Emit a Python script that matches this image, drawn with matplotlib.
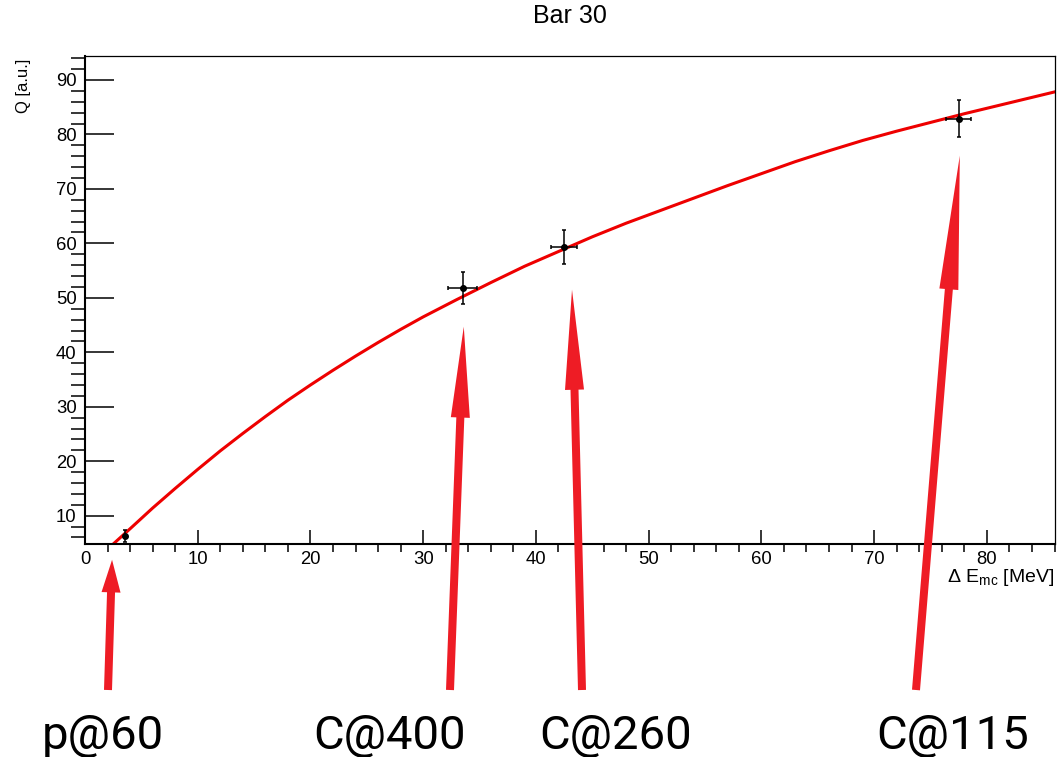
import matplotlib
matplotlib.use("Agg")
import matplotlib.pyplot as plt
from matplotlib.patches import FancyArrow
from matplotlib.ticker import MultipleLocator

# measured points (Delta E_mc in MeV, charge in a.u.)
points_x = [3.55, 33.5, 42.5, 77.5]
points_y = [6.3, 51.75, 59.3, 82.9]
points_xerr = [0.0, 1.27, 1.14, 1.1]
points_yerr = [1.1, 2.95, 3.15, 3.4]

# fitted curve
fit_x = [2.4, 4, 6, 8, 10, 12, 14, 16, 18, 20, 22, 24, 26, 28, 30,
         33, 36, 39, 42, 45, 48, 51, 54, 57, 60, 63, 66, 69, 72, 75,
         78, 81, 84, 86]
fit_y = [4.6, 7.6, 11.4, 15.0, 18.5, 21.9, 25.1, 28.2, 31.2, 34.0,
         36.7, 39.3, 41.8, 44.2, 46.5, 49.7, 52.8, 55.8, 58.5, 61.2,
         63.7, 66.0, 68.3, 70.6, 72.8, 75.0, 77.0, 78.9, 80.6, 82.2,
         83.8, 85.3, 86.8, 87.8]

# beams pointing at the points
beam_labels = ["p@60", "C@400", "C@260", "C@115"]
beam_tip_x = [2.4, 33.6, 43.2, 77.6]
beam_tip_y = [1.9, 44.7, 51.5, 76.1]

W, H = 1057, 757
RED = "#ee0000"
ARROW = "#ee1c25"

plt.rcParams["font.family"] = ["Liberation Sans", "DejaVu Sans"]

fig = plt.figure(figsize=(W / 100, H / 100), dpi=100)
ax = fig.add_axes([85 / W, 1 - 544 / H, 969.5 / W, 488 / H])

ax.plot(fit_x, fit_y, color=RED, lw=2.2, zorder=2)
ax.errorbar(points_x, points_y, xerr=points_xerr, yerr=points_yerr,
            fmt="o", ms=4, color="black", ecolor="black", elinewidth=1.1,
            capsize=1.5, capthick=1.1, zorder=3)

ax.set_xlim(0, 86)
ax.set_ylim(4.8, 94.4)
ax.xaxis.set_major_locator(MultipleLocator(10))
ax.xaxis.set_minor_locator(MultipleLocator(2))
ax.yaxis.set_major_locator(MultipleLocator(10))
ax.yaxis.set_minor_locator(MultipleLocator(2))
ax.set_yticks([10, 20, 30, 40, 50, 60, 70, 80, 90])

ax.tick_params(axis="both", direction="in", labelsize=13.3, width=1.1)
ax.tick_params(axis="y", which="major", length=21, pad=6)
ax.tick_params(axis="y", which="minor", length=10, width=1.1)
ax.tick_params(axis="x", which="major", length=10, pad=5)
ax.tick_params(axis="x", which="minor", length=5.4, width=1.1)

for side in ["left", "bottom"]:
    ax.spines[side].set_linewidth(1.5)
for side in ["top", "right"]:
    ax.spines[side].set_linewidth(0.9)

ax.set_xlabel("Δ E$_{\\mathregular{mc}}$ [MeV]", fontsize=14, ha="right")
ax.xaxis.set_label_coords(1.0, -0.048)
ax.xaxis.label.set_va("top")
ax.set_ylabel("Q [a.u.]", fontsize=12, ha="right")
ax.yaxis.set_label_coords(-0.056, 0.995)

fig.text(570 / W, 1 - 16 / H, "Bar 30", ha="center", va="center", fontsize=18)

# arrows and beam labels drawn in figure pixels
over = fig.add_axes([0, 0, 1, 1], zorder=5)
over.set_xlim(0, W)
over.set_ylim(0, H)
over.axis("off")
over.patch.set_alpha(0)

tails = [(108, 67), (450, 67), (582, 67), (916, 67)]
label_x = [103, 389, 616, 953]
for (tx, ty), bx, by, lx, text in zip(tails, beam_tip_x, beam_tip_y,
                                      label_x, beam_labels):
    px, py = ax.transData.transform((bx, by))
    dx, dy = px - tx, py - ty
    length = (dx ** 2 + dy ** 2) ** 0.5
    over.add_patch(FancyArrow(tx, ty, dx, dy, width=8, head_width=19,
                              head_length=0.25 * length,
                              length_includes_head=True,
                              color=ARROW, lw=0))
    over.text(lx, 8, text, ha="center", va="baseline", fontsize=34,
              family=["Liberation Sans Narrow", "Roboto", "DejaVu Sans"])

fig.savefig("out.png", dpi=100)
